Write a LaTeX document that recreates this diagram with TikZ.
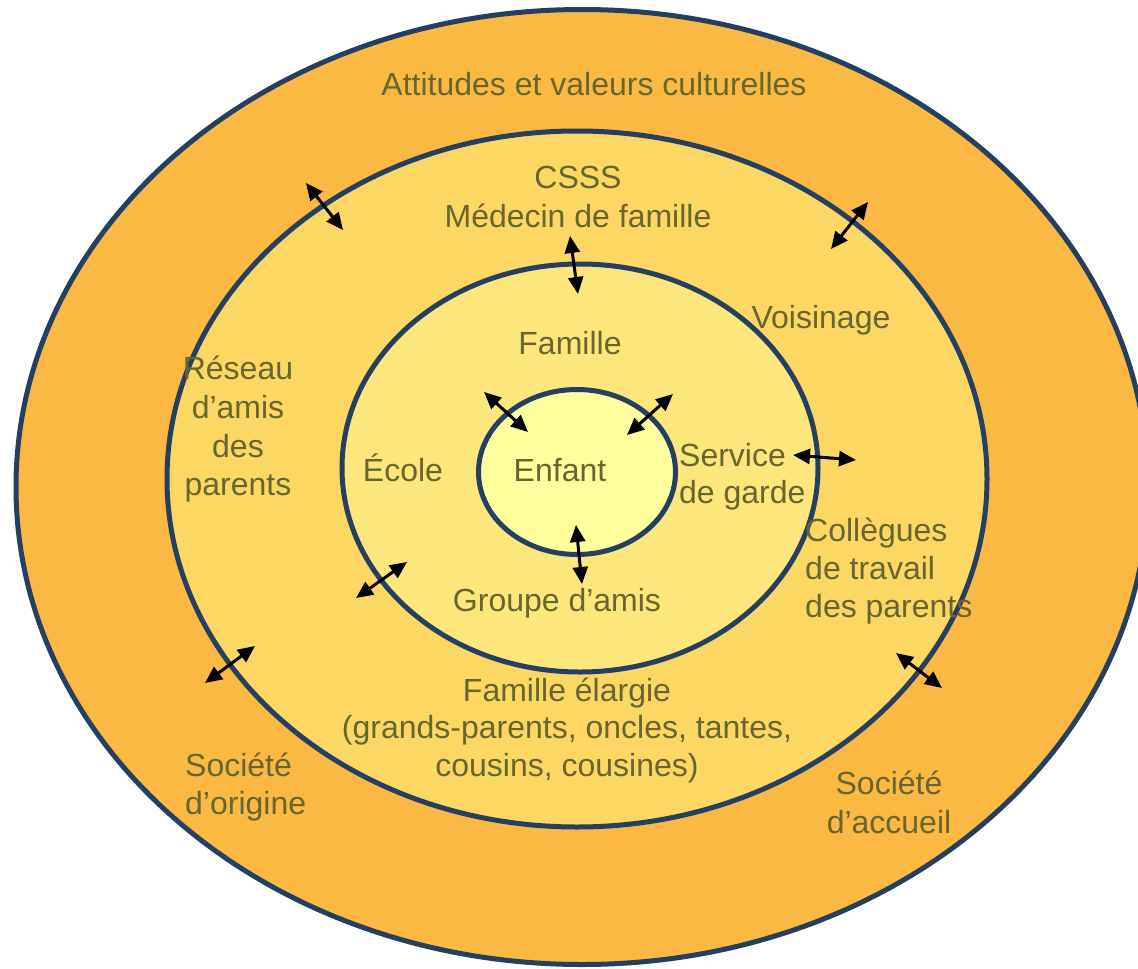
\documentclass[tikz,border=0pt]{standalone}
\usepackage{fontspec}
\setmainfont{Liberation Sans}
\usetikzlibrary{arrows.meta,shapes.geometric}
\definecolor{ringA}{HTML}{FBB944}
\definecolor{ringB}{HTML}{FDD763}
\definecolor{ringC}{HTML}{FDE77C}
\definecolor{ringD}{HTML}{FFFF9E}
\definecolor{edgeblue}{HTML}{243F60}
\definecolor{txt}{HTML}{66662E}
\begin{document}
\begin{tikzpicture}[x=1pt,y=-1pt,
  ring/.style={ellipse, draw=edgeblue, line width=5pt, inner sep=0pt, outer sep=0pt},
  lbl/.style={anchor=base, inner sep=0pt, text=txt, font=\fontsize{32}{38.5}\selectfont},
  lbll/.style={lbl, anchor=base west},
  biarrow/.style={{Triangle[length=17pt,width=15pt]}-{Triangle[length=17pt,width=15pt]}, line width=3pt, black, shorten <=0pt, shorten >=0pt}]
\useasboundingbox (0,0) rectangle (1138,969);
\clip (0,0) rectangle (1138,969);
% rings
\node[ring, fill=ringA, minimum width=1132pt, minimum height=955pt] (outer) at (582,487) {};
\node[ring, fill=ringB, minimum width=820pt, minimum height=696pt] (second) at (577,479) {};
\node[ring, fill=ringC, minimum width=476pt, minimum height=408pt] (third) at (580,468) {};
\node[ring, fill=ringD, minimum width=197pt, minimum height=165pt] (inner) at (577,472) {};
% labels
\node[lbl] (att) at (594,95) {Attitudes et valeurs culturelles};
\node[lbl] (csss) at (578,188) {CSSS};
\node[lbl] (med) at (578,227) {Médecin de famille};
\node[lbl] (vois) at (821,328) {Voisinage};
\node[lbl] (fam) at (570,354) {Famille};
\node[lbl] (res1) at (238,379) {Réseau};
\node[lbl] (res2) at (238,418) {d’amis};
\node[lbl] (res3) at (238,457) {des};
\node[lbl] (res4) at (238,495) {parents};
\node[lbl] (ecole) at (403,481) {École};
\node[lbl] (enfant) at (560,481) {Enfant};
\node[lbll] (serv1) at (679,466) {Service};
\node[lbll] (serv2) at (679,503) {de garde};
\node[lbll] (col1) at (805,541) {Collègues};
\node[lbll] (col2) at (805,579) {de travail};
\node[lbll] (col3) at (805,617) {des parents};
\node[lbl] (groupe) at (557,611) {Groupe d’amis};
\node[lbl] (fe1) at (567,701) {Famille élargie};
\node[lbl] (fe2) at (567,738) {(grands-parents, oncles, tantes,};
\node[lbl] (fe3) at (567,776) {cousins, cousines)};
\node[lbll] (so1) at (185,776) {Société};
\node[lbll] (so2) at (185,814) {d’origine};
\node[lbl] (sa1) at (889,794) {Société};
\node[lbl] (sa2) at (889,833) {d’accueil};
% arrows
\coordinate (a1s) at (306,183); \coordinate (a1e) at (343,230);
\coordinate (a2s) at (868,202); \coordinate (a2e) at (831,249);
\coordinate (a3s) at (570,236); \coordinate (a3e) at (578,294);
\coordinate (a4s) at (484,392); \coordinate (a4e) at (528,432);
\coordinate (a5s) at (673,394); \coordinate (a5e) at (627,435);
\coordinate (a6s) at (793,455); \coordinate (a6e) at (856,460);
\coordinate (a7s) at (576,525); \coordinate (a7e) at (582,584);
\coordinate (a8s) at (407,562); \coordinate (a8e) at (356,598);
\coordinate (a9s) at (255,646); \coordinate (a9e) at (205,683);
\coordinate (a10s) at (896,653); \coordinate (a10e) at (942,688);
\foreach \i in {1,...,10} { \draw[biarrow] (a\i s) -- (a\i e); }
\end{tikzpicture}
\end{document}
